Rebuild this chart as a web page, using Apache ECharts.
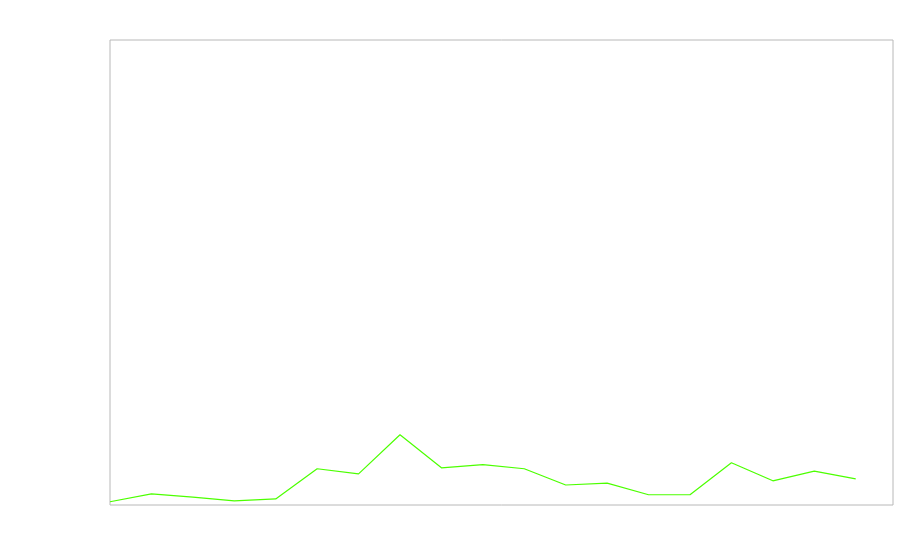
<!DOCTYPE html>
<html>
<head>
<meta charset="utf-8">
<script src="https://cdn.jsdelivr.net/npm/echarts@6/dist/echarts.min.js"></script>
<style>html,body{margin:0;padding:0;background:#fff}#c{width:900px;height:560px}</style>
</head>
<body>
<div id="c"></div>
<script>
var xValues = [0,1,2,3,4,5,6,7,8,9,10,11,12,13,14,15,16,17,18];
var seriesValues = [0.7,2.4,1.7,0.9,1.3,7.8,6.7,15.1,8.0,8.7,7.8,4.3,4.7,2.2,2.2,9.1,5.2,7.3,5.6];

var chart = echarts.init(document.getElementById('c'), null, {renderer:'canvas'});
chart.setOption({
  animation: false,
  backgroundColor: '#ffffff',
  grid: {left:110, top:40, right:7, bottom:55, show:true, borderColor:'#b8b8b8', borderWidth:1, backgroundColor:'transparent'},
  xAxis: {type:'value', min:0, max:18.9, show:false},
  yAxis: {type:'value', min:0, max:100, show:false},
  series: [{
    type:'line',
    data: xValues.map(function(x,i){return [x, seriesValues[i]];}),
    symbol:'none',
    lineStyle:{color:'#4cff00', width:1.2},
    itemStyle:{color:'#4cff00'}
  }]
});
</script>
</body>
</html>
